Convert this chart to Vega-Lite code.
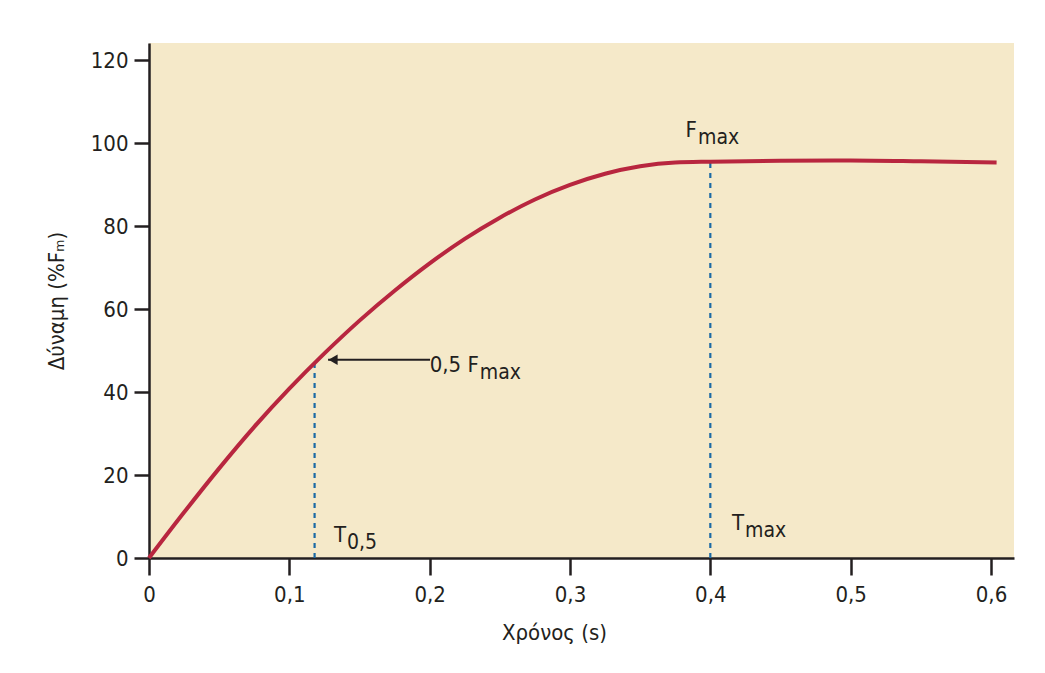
{
  "$schema": "https://vega.github.io/schema/vega-lite/v6.json",
  "autosize": {"type": "none"},
  "padding": {"left": 149, "top": 43, "right": 31, "bottom": 115},
  "width": 865,
  "height": 515,
  "background": "white",
  "config": {
    "view": {"fill": "#f5e9c9", "stroke": null},
    "font": "'DejaVu Sans Condensed', Roboto, sans-serif",
    "axis": {
      "grid": false,
      "labelFlush": false,
      "domainColor": "#231f20",
      "domainWidth": 2.5,
      "tickColor": "#231f20",
      "tickWidth": 2.5,
      "labelColor": "#231f20",
      "titleColor": "#231f20",
      "labelFontSize": 22,
      "titleFontSize": 22,
      "titleFontWeight": "normal",
      "labelFont": "'DejaVu Sans Condensed', Roboto, sans-serif",
      "titleFont": "'DejaVu Sans Condensed', Roboto, sans-serif"
    }
  },
  "datasets": {
    "curve": [
      {"t": 0, "v": 0},
      {"t": 0.025, "v": 11.0},
      {"t": 0.05, "v": 21.6},
      {"t": 0.075, "v": 31.6},
      {"t": 0.1, "v": 40.8},
      {"t": 0.125, "v": 49.3},
      {"t": 0.15, "v": 57.2},
      {"t": 0.175, "v": 64.4},
      {"t": 0.2, "v": 71.0},
      {"t": 0.225, "v": 76.9},
      {"t": 0.25, "v": 82.0},
      {"t": 0.275, "v": 86.4},
      {"t": 0.3, "v": 89.9},
      {"t": 0.325, "v": 92.6},
      {"t": 0.35, "v": 94.4},
      {"t": 0.375, "v": 95.3},
      {"t": 0.4, "v": 95.5},
      {"t": 0.45, "v": 95.7},
      {"t": 0.5, "v": 95.8},
      {"t": 0.55, "v": 95.6},
      {"t": 0.604, "v": 95.3}
    ],
    "markers": [
      {"t": 0.118, "v0": 0, "v1": 47.0},
      {"t": 0.4, "v0": 0, "v1": 95.5}
    ],
    "arrow": [
      {"t0": 0.1276, "t1": 0.2003, "v": 47.76}
    ],
    "labels": [
      {"main": "0,5 F", "sub": "max", "t": 0.235, "v": 44.9},
      {"main": "F", "sub": "max", "t": 0.3905, "v": 101.5},
      {"main": "T", "sub": "0,5", "t": 0.1404, "v": 3.9},
      {"main": "T", "sub": "max", "t": 0.424, "v": 6.8}
    ]
  },
  "layer": [
    {
      "data": {"name": "markers"},
      "mark": {"type": "rule", "color": "#1b6aa5", "strokeWidth": 2.2, "strokeDash": [5, 5]},
      "encoding": {
        "x": {"field": "t", "type": "quantitative"},
        "y": {"field": "v0", "type": "quantitative"},
        "y2": {"field": "v1"}
      }
    },
    {
      "data": {"name": "curve"},
      "mark": {"type": "line", "color": "#b8263f", "strokeWidth": 4, "interpolate": "monotone"},
      "encoding": {
        "x": {
          "field": "t", "type": "quantitative",
          "scale": {"domain": [0, 0.6164], "nice": false, "zero": false},
          "axis": {
            "title": "Χρόνος (s)",
            "values": [0, 0.1, 0.2, 0.3, 0.4, 0.5, 0.6],
            "labelExpr": "datum.value == 0 ? '0' : replace(format(datum.value, '.1f'), '.', ',')",
            "tickSize": 17,
            "labelPadding": 9,
            "titlePadding": 17,
            "titleX": 405
          }
        },
        "y": {
          "field": "v", "type": "quantitative",
          "scale": {"domain": [0, 124.1], "nice": false},
          "axis": {
            "title": "Δύναμη (%Fₘ)",
            "values": [0, 20, 40, 60, 80, 100, 120],
            "tickSize": 15,
            "labelPadding": 6,
            "titlePadding": 22
          }
        }
      }
    },
    {
      "data": {"name": "arrow"},
      "mark": {"type": "rule", "color": "#231f20", "strokeWidth": 2},
      "encoding": {
        "x": {"field": "t0", "type": "quantitative"},
        "x2": {"field": "t1"},
        "y": {"field": "v", "type": "quantitative"}
      }
    },
    {
      "data": {"name": "arrow"},
      "mark": {"type": "point", "shape": "triangle-left", "filled": true, "color": "#231f20", "size": 110, "opacity": 1, "xOffset": 5},
      "encoding": {
        "x": {"field": "t0", "type": "quantitative"},
        "y": {"field": "v", "type": "quantitative"}
      }
    },
    {
      "data": {"name": "labels"},
      "mark": {"type": "text", "align": "right", "baseline": "alphabetic", "fontSize": 22, "color": "#231f20"},
      "encoding": {
        "x": {"field": "t", "type": "quantitative"},
        "y": {"field": "v", "type": "quantitative"},
        "text": {"field": "main"}
      }
    },
    {
      "data": {"name": "labels"},
      "mark": {"type": "text", "align": "left", "baseline": "alphabetic", "fontSize": 21, "dy": 7.5, "dx": 1, "color": "#231f20"},
      "encoding": {
        "x": {"field": "t", "type": "quantitative"},
        "y": {"field": "v", "type": "quantitative"},
        "text": {"field": "sub"}
      }
    }
  ]
}
